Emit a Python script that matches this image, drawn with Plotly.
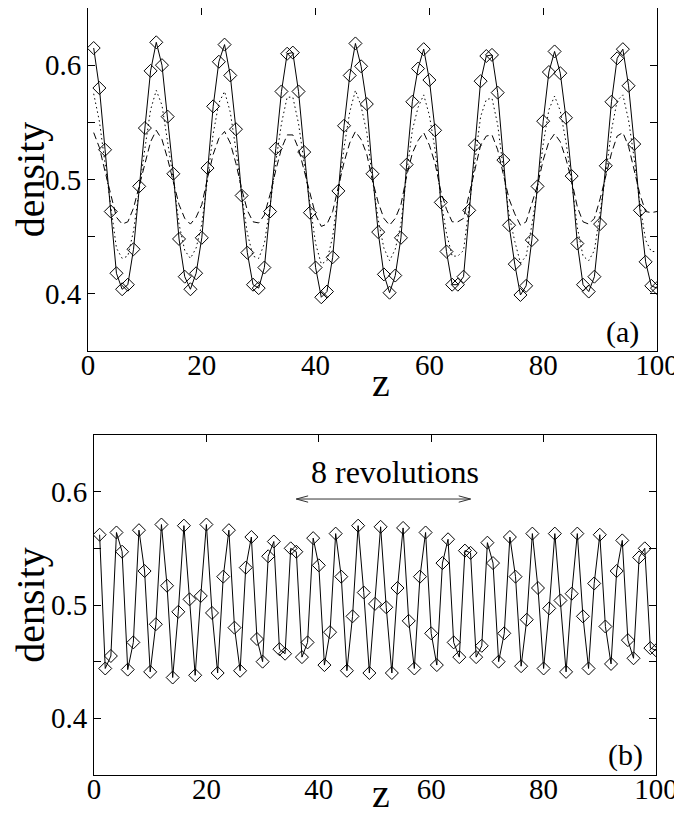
import plotly.graph_objects as go

z = list(range(1, 101))

# Panel (a): solid line with diamonds
dens_a_solid = [
    0.615, 0.580, 0.526, 0.472, 0.418, 0.404, 0.408, 0.439, 0.494, 0.545,
    0.595, 0.620, 0.600, 0.555, 0.505, 0.448, 0.415, 0.404, 0.418, 0.449,
    0.510, 0.564, 0.603, 0.618, 0.591, 0.544, 0.486, 0.436, 0.408, 0.405,
    0.423, 0.472, 0.527, 0.577, 0.610, 0.611, 0.577, 0.524, 0.471, 0.423,
    0.397, 0.402, 0.432, 0.490, 0.547, 0.591, 0.619, 0.599, 0.566, 0.505,
    0.454, 0.417, 0.401, 0.416, 0.449, 0.513, 0.568, 0.597, 0.614, 0.587,
    0.543, 0.480, 0.437, 0.408, 0.408, 0.415, 0.473, 0.530, 0.586, 0.608,
    0.609, 0.576, 0.517, 0.460, 0.426, 0.399, 0.407, 0.447, 0.494, 0.551,
    0.594, 0.612, 0.593, 0.554, 0.503, 0.444, 0.408, 0.402, 0.415, 0.461,
    0.512, 0.568, 0.606, 0.614, 0.582, 0.531, 0.473, 0.428, 0.407, 0.405,
]

# Panel (a): dotted line
dens_a_dotted = [
    0.575, 0.551, 0.514, 0.477, 0.440, 0.431, 0.433, 0.455, 0.492, 0.527,
    0.561, 0.578, 0.565, 0.534, 0.500, 0.461, 0.438, 0.431, 0.440, 0.461,
    0.503, 0.540, 0.567, 0.577, 0.559, 0.526, 0.487, 0.453, 0.433, 0.431,
    0.444, 0.477, 0.515, 0.549, 0.572, 0.572, 0.549, 0.513, 0.476, 0.444,
    0.426, 0.429, 0.450, 0.489, 0.528, 0.559, 0.578, 0.564, 0.541, 0.500,
    0.465, 0.440, 0.429, 0.439, 0.461, 0.505, 0.543, 0.563, 0.574, 0.556,
    0.526, 0.483, 0.453, 0.433, 0.433, 0.438, 0.478, 0.517, 0.555, 0.570,
    0.571, 0.548, 0.508, 0.469, 0.446, 0.427, 0.433, 0.460, 0.492, 0.531,
    0.561, 0.573, 0.560, 0.533, 0.498, 0.458, 0.433, 0.429, 0.438, 0.470,
    0.505, 0.543, 0.569, 0.574, 0.552, 0.518, 0.478, 0.447, 0.437, 0.437,
]

# Panel (a): dashed line
dens_a_dashed = [
    0.541, 0.528, 0.507, 0.487, 0.467, 0.461, 0.463, 0.475, 0.495, 0.515,
    0.533, 0.543, 0.535, 0.518, 0.499, 0.478, 0.466, 0.461, 0.467, 0.478,
    0.501, 0.522, 0.536, 0.542, 0.532, 0.514, 0.492, 0.473, 0.463, 0.462,
    0.469, 0.487, 0.508, 0.527, 0.539, 0.539, 0.527, 0.507, 0.487, 0.469,
    0.459, 0.461, 0.472, 0.494, 0.515, 0.532, 0.542, 0.535, 0.522, 0.499,
    0.480, 0.466, 0.460, 0.466, 0.478, 0.503, 0.523, 0.534, 0.541, 0.530,
    0.514, 0.490, 0.474, 0.463, 0.463, 0.466, 0.487, 0.509, 0.530, 0.538,
    0.539, 0.526, 0.504, 0.483, 0.470, 0.460, 0.463, 0.478, 0.495, 0.517,
    0.533, 0.540, 0.533, 0.518, 0.499, 0.476, 0.463, 0.461, 0.466, 0.483,
    0.502, 0.523, 0.538, 0.541, 0.529, 0.509, 0.487, 0.472, 0.471, 0.472,
]

# Panel (b): solid line with diamonds
dens_b = [
    0.562, 0.444, 0.455, 0.564, 0.547, 0.443, 0.467, 0.566, 0.530, 0.441,
    0.483, 0.571, 0.517, 0.436, 0.494, 0.570, 0.505, 0.438, 0.508, 0.571,
    0.493, 0.440, 0.525, 0.566, 0.480, 0.442, 0.533, 0.560, 0.470, 0.450,
    0.543, 0.556, 0.461, 0.457, 0.550, 0.547, 0.454, 0.467, 0.559, 0.535,
    0.447, 0.476, 0.563, 0.525, 0.442, 0.490, 0.570, 0.511, 0.440, 0.501,
    0.569, 0.498, 0.440, 0.515, 0.568, 0.486, 0.444, 0.525, 0.564, 0.475,
    0.447, 0.537, 0.558, 0.467, 0.454, 0.548, 0.546, 0.454, 0.464, 0.555,
    0.537, 0.450, 0.475, 0.560, 0.525, 0.446, 0.487, 0.563, 0.515, 0.444,
    0.497, 0.563, 0.504, 0.441, 0.510, 0.563, 0.490, 0.444, 0.519, 0.562,
    0.481, 0.448, 0.530, 0.557, 0.469, 0.453, 0.542, 0.550, 0.462, 0.460,
]

x_ticks = [0, 20, 40, 60, 80, 100]
y_ticks = [0.4, 0.45, 0.5, 0.55, 0.6]
y_ticktext = ["0.4", "", "0.5", "", "0.6"]
arrow_span = [36, 67]
arrow_y = 0.5935

# page has an 8px body margin; the figure fills the rest of the window
W, H = 674, 816
OFF = 8
FONT = "Liberation Serif"
BLACK = "#000000"

fig = go.Figure()

fig.add_trace(go.Scatter(x=z, y=dens_a_dashed, mode="lines",
                         line=dict(color=BLACK, width=1, dash="7px,4px"),
                         xaxis="x", yaxis="y", showlegend=False))
fig.add_trace(go.Scatter(x=z, y=dens_a_dotted, mode="lines",
                         line=dict(color=BLACK, width=1, dash="1.5px,3px"),
                         xaxis="x", yaxis="y", showlegend=False))
fig.add_trace(go.Scatter(x=z, y=dens_a_solid, mode="lines+markers",
                         line=dict(color=BLACK, width=1),
                         marker=dict(symbol="diamond-open", size=10, color=BLACK,
                                     line=dict(width=1, color=BLACK)),
                         xaxis="x", yaxis="y", showlegend=False))
fig.add_trace(go.Scatter(x=z, y=dens_b, mode="lines+markers",
                         line=dict(color=BLACK, width=1),
                         marker=dict(symbol="diamond-open", size=10, color=BLACK,
                                     line=dict(width=1, color=BLACK)),
                         xaxis="x2", yaxis="y2", showlegend=False))
# empty traces so the top-tick overlay axes are drawn
fig.add_trace(go.Scatter(x=[], y=[], xaxis="x3", yaxis="y", showlegend=False, hoverinfo="skip"))
fig.add_trace(go.Scatter(x=[], y=[], xaxis="x4", yaxis="y2", showlegend=False, hoverinfo="skip"))

tickfont = dict(family=FONT, size=29, color=BLACK)
titlefont = dict(family=FONT, size=40, color=BLACK)

def xaxis_base(domain, anchor):
    return dict(domain=domain, anchor=anchor, range=[0, 100], tickvals=x_ticks,
                ticks="", showline=True, linecolor=BLACK, linewidth=1, mirror=True,
                showgrid=False, zeroline=False, tickfont=tickfont, automargin=False,
                ticklabeloverflow="allow", ticklabelstandoff=-12)

def xaxis_top(overlay, anchor):
    return dict(overlaying=overlay, anchor=anchor, side="top", range=[0, 100],
                tickvals=x_ticks, ticks="inside", ticklen=7, tickcolor=BLACK,
                showticklabels=False, showline=False, showgrid=False, zeroline=False,
                automargin=False)

def yaxis_base(domain, anchor):
    return dict(domain=domain, anchor=anchor, range=[0.35, 0.65], tickvals=y_ticks,
                ticktext=y_ticktext, ticks="inside", ticklen=7, tickcolor=BLACK,
                showline=True, linecolor=BLACK, linewidth=1, mirror="ticks",
                showgrid=False, zeroline=False, tickfont=tickfont, automargin=False,
                ticklabeloverflow="allow",
                title=dict(text="density", font=titlefont, standoff=10))

def px_x(a, b):
    return [(a - OFF) / W, (b - OFF) / W]

def px_y(top, bottom):
    return [1 - (bottom - OFF) / H, min(1.0, 1 - (top - OFF) / H)]

def pg_x(p):
    return (p - OFF) / W

def pg_y(p):
    return 1 - (p - OFF) / H

fig.update_layout(
    width=W, height=H, autosize=False,
    margin=dict(l=0, r=0, t=0, b=0, autoexpand=False),
    paper_bgcolor="white", plot_bgcolor="white",
    font=dict(family=FONT, color=BLACK),
    xaxis=xaxis_base(px_x(88, 657), "y"),
    yaxis=yaxis_base(px_y(8, 351), "x"),
    xaxis2=xaxis_base(px_x(94, 656), "y2"),
    yaxis2=yaxis_base(px_y(435, 775), "x2"),
    xaxis3=xaxis_top("x", "y"),
    xaxis4=xaxis_top("x2", "y2"),
    annotations=[
        dict(text="z", x=pg_x(381), y=pg_y(383), xref="paper", yref="paper",
             xanchor="center", yanchor="middle", showarrow=False, font=titlefont),
        dict(text="z", x=pg_x(381), y=pg_y(793), xref="paper", yref="paper",
             xanchor="center", yanchor="middle", showarrow=False, font=titlefont),
        dict(text="(a)", x=94, y=0.367, xref="x", yref="y", showarrow=False,
             xanchor="center", yanchor="middle",
             font=dict(family=FONT, size=30, color=BLACK)),
        dict(text="(b)", x=94.5, y=0.3675, xref="x2", yref="y2", showarrow=False,
             xanchor="center", yanchor="middle",
             font=dict(family=FONT, size=30, color=BLACK)),
        dict(text="8 revolutions", x=53.6, y=0.617,
             xref="x2", yref="y2", showarrow=False,
             xanchor="center", yanchor="middle",
             font=dict(family=FONT, size=32, color=BLACK)),
    ],
)

# double-headed open arrow in panel (b)
hx, hy = 2.1, 0.0028
a0, a1 = arrow_span
path = (f"M {a0},{arrow_y} L {a1},{arrow_y} "
        f"M {a0 + hx},{arrow_y + hy} L {a0},{arrow_y} L {a0 + hx},{arrow_y - hy} "
        f"M {a1 - hx},{arrow_y + hy} L {a1},{arrow_y} L {a1 - hx},{arrow_y - hy}")
fig.add_shape(type="path", path=path, xref="x2", yref="y2",
              line=dict(color="#333333", width=1))

fig.write_html("out.html")
